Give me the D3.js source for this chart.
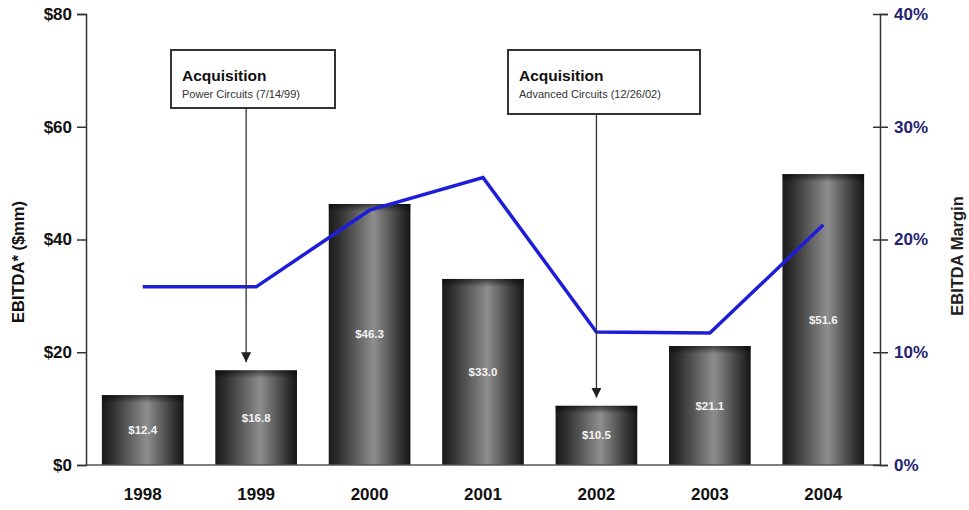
<!DOCTYPE html>
<html>
<head>
<meta charset="utf-8">
<script src="https://cdn.jsdelivr.net/npm/d3@7"></script>
<style>
  html, body { margin: 0; padding: 0; background: #fff; }
  svg { display: block; font-family: Arial, "Liberation Sans", sans-serif; }
</style>
</head>
<body>
<svg id="chart" width="969" height="510"></svg>
<script>
// EBITDA by year ($mm) and EBITDA margin (%)
const years = ["1998", "1999", "2000", "2001", "2002", "2003", "2004"];
const ebitda = [12.4, 16.8, 46.3, 33.0, 10.5, 21.1, 51.6];
const margin = [15.8, 15.8, 22.6, 25.5, 11.8, 11.7, 21.3];
const ebitdaTicks = [0, 20, 40, 60, 80];
const marginTicks = [0, 10, 20, 30, 40];

// Acquisition callouts: which year the arrow points to
const callouts = [
  { year: "1999", title: "Acquisition", sub: "Power Circuits (7/14/99)" },
  { year: "2002", title: "Acquisition", sub: "Advanced Circuits (12/26/02)" }
];

const svg = d3.select("#chart");
const plotLeft = 86, plotRight = 880, plotTop = 14, plotBottom = 465;

const x = d3.scaleBand().domain(years).range([plotLeft, plotRight]).paddingInner(0.28).paddingOuter(0.14);
const y = d3.scaleLinear().domain([0, 80]).range([plotBottom, plotTop]);
const y2 = d3.scaleLinear().domain([0, 40]).range([plotBottom, plotTop]);

// Cylinder shading for bars
const defs = svg.append("defs");
const grad = defs.append("linearGradient").attr("id", "barGrad")
  .attr("x1", "0%").attr("x2", "100%").attr("y1", "0%").attr("y2", "0%");
[["0%", "#1a1a1a"], ["12%", "#2e2e2e"], ["55%", "#8e8e8e"], ["85%", "#3c3c3c"], ["100%", "#151515"]]
  .forEach(([o, c]) => grad.append("stop").attr("offset", o).attr("stop-color", c));
const topGrad = defs.append("linearGradient").attr("id", "topGrad")
  .attr("x1", "0%").attr("x2", "0%").attr("y1", "0%").attr("y2", "100%");
[["0%", "rgba(0,0,0,0.55)"], ["100%", "rgba(0,0,0,0)"]]
  .forEach(([o, c]) => topGrad.append("stop").attr("offset", o).attr("stop-color", c));
const arrow = defs.append("marker").attr("id", "arrowHead")
  .attr("viewBox", "0 0 10 10").attr("refX", 10).attr("refY", 5)
  .attr("markerWidth", 10).attr("markerHeight", 10).attr("markerUnits", "userSpaceOnUse")
  .attr("orient", "auto");
arrow.append("path").attr("d", "M0,0 L10,5 L0,10 Z").attr("fill", "#222");

// Bars
const bars = svg.append("g");
bars.selectAll("rect.bar").data(years).join("rect").attr("class", "bar")
  .attr("x", d => x(d)).attr("width", x.bandwidth())
  .attr("y", (d, i) => y(ebitda[i])).attr("height", (d, i) => y(0) - y(ebitda[i]))
  .attr("fill", "url(#barGrad)");
bars.selectAll("rect.cap").data(years).join("rect").attr("class", "cap")
  .attr("x", d => x(d)).attr("width", x.bandwidth())
  .attr("y", (d, i) => y(ebitda[i])).attr("height", 8)
  .attr("fill", "url(#topGrad)");
bars.selectAll("text").data(years).join("text")
  .attr("x", d => x(d) + x.bandwidth() / 2)
  .attr("y", (d, i) => (y(ebitda[i]) + y(0)) / 2 + 4)
  .attr("text-anchor", "middle").attr("fill", "#f2f2f2")
  .attr("font-size", 11.5).attr("font-weight", "bold")
  .text((d, i) => "$" + ebitda[i].toFixed(1));

// Baseline
svg.append("line").attr("x1", plotLeft).attr("x2", plotRight).attr("y1", y(0)).attr("y2", y(0))
  .attr("stroke", "#555").attr("stroke-width", 1.5);

// Left axis
const axL = svg.append("g").attr("transform", `translate(${plotLeft},0)`)
  .call(d3.axisLeft(y).tickValues(ebitdaTicks).tickSize(9).tickPadding(5).tickFormat(d => "$" + d));
axL.select(".domain").attr("stroke", "#333").attr("stroke-width", 1.5);
axL.selectAll(".tick line").attr("stroke", "#333").attr("stroke-width", 1.5);
axL.selectAll(".tick text").attr("font-size", 17).attr("font-weight", "bold")
  .attr("fill", "#111").attr("font-family", "Arial, 'Liberation Sans', sans-serif");

// Right axis (ticks cross the line)
const axR = svg.append("g").attr("transform", `translate(${plotRight},0)`)
  .call(d3.axisRight(y2).tickValues(marginTicks).tickSize(8).tickPadding(6).tickFormat(d => d + "%"));
axR.select(".domain").attr("stroke", "#333").attr("stroke-width", 1.5);
axR.selectAll(".tick line").attr("x1", -7).attr("stroke", "#333").attr("stroke-width", 1.5);
axR.selectAll(".tick text").attr("font-size", 17).attr("font-weight", "bold")
  .attr("fill", "#24246e").attr("font-family", "Arial, 'Liberation Sans', sans-serif");

// Axis titles
svg.append("text").attr("transform", "translate(24,262) rotate(-90)")
  .attr("text-anchor", "middle").attr("font-size", 16.5).attr("font-weight", "bold")
  .attr("fill", "#111").text("EBITDA* ($mm)");
svg.append("text").attr("transform", "translate(963,256) rotate(-90)")
  .attr("text-anchor", "middle").attr("font-size", 16.5).attr("font-weight", "bold")
  .attr("fill", "#222").text("EBITDA Margin");

// Year labels
svg.append("g").selectAll("text").data(years).join("text")
  .attr("x", d => x(d) + x.bandwidth() / 2).attr("y", 500)
  .attr("text-anchor", "middle").attr("font-size", 17).attr("font-weight", "bold")
  .attr("fill", "#111").text(d => d);

// Margin line
const line = d3.line().x((d, i) => x(years[i]) + x.bandwidth() / 2).y(d => y2(d));
svg.append("path").datum(margin).attr("d", line)
  .attr("fill", "none").attr("stroke", "#1e1ed8").attr("stroke-width", 3.5)
  .attr("stroke-linejoin", "miter");

// Acquisition callouts (box placement and arrow offset from bar centre)
const boxes = [
  { x0: 171, w: 164, h: 58, dx: -10 },
  { x0: 508, w: 192, h: 64, dx: 0 }
];
callouts.forEach((c, k) => {
  const i = years.indexOf(c.year);
  const b = boxes[k];
  const cx = x(c.year) + x.bandwidth() / 2 + b.dx;
  const g = svg.append("g");
  g.append("line").attr("x1", cx).attr("x2", cx).attr("y1", 50 + b.h).attr("y2", y(ebitda[i]) - 8)
    .attr("stroke", "#333").attr("stroke-width", 1.3).attr("marker-end", "url(#arrowHead)");
  g.append("rect").attr("x", b.x0).attr("y", 50).attr("width", b.w).attr("height", b.h)
    .attr("fill", "#fff").attr("stroke", "#333").attr("stroke-width", 2);
  g.append("text").attr("x", b.x0 + 11).attr("y", 81).attr("font-size", 15.5).attr("font-weight", "bold")
    .attr("fill", "#111").text(c.title);
  g.append("text").attr("x", b.x0 + 11).attr("y", 98).attr("font-size", 11)
    .attr("fill", "#333").text(c.sub);
});
</script>
</body>
</html>
